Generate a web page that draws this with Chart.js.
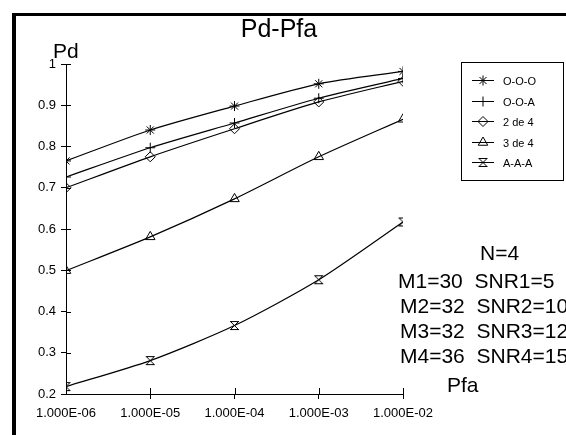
<!DOCTYPE html>
<html>
<head>
<meta charset="utf-8">
<script src="https://cdn.jsdelivr.net/npm/chart.js@4/dist/chart.umd.min.js"></script>
<style>
  html, body { margin: 0; padding: 0; background: #fff; }
  #wrap { position: relative; width: 566px; height: 435px; overflow: hidden; }
  #frame { position: absolute; left: 12px; top: 13px; width: 560px; height: 430px;
           border-left: 4px solid #000; border-top: 3px solid #000; }
  canvas { position: absolute; left: 0; top: 0; }
</style>
</head>
<body>
<div id="wrap">
  <div id="frame"></div>
  <canvas id="chart" width="566" height="435"></canvas>
</div>
<script>
// data
var pfa = [1e-6, 1e-5, 1e-4, 1e-3, 1e-2];
var xTickLabels = ['1.000E-06', '1.000E-05', '1.000E-04', '1.000E-03', '1.000E-02'];
var yTicks = [0.2, 0.3, 0.4, 0.5, 0.6, 0.7, 0.8, 0.9, 1];
var names = ['O-O-O', 'O-O-A', '2 de 4', '3 de 4', 'A-A-A'];
var ooo = [0.765, 0.84, 0.898, 0.952, 0.982];
var ooa = [0.726, 0.797, 0.857, 0.917, 0.965];
var dos = [0.70, 0.775, 0.843, 0.908, 0.958];
var tres = [0.499, 0.581, 0.673, 0.775, 0.866];
var aaa = [0.218, 0.281, 0.366, 0.477, 0.617];
var notes = ['N=4', 'M1=30  SNR1=5', 'M2=32  SNR2=10', 'M3=32  SNR3=12', 'M4=36  SNR4=15'];

// hourglass marker for A-A-A
var hg = document.createElement('canvas');
hg.width = 11; hg.height = 11;
var g = hg.getContext('2d');
g.strokeStyle = '#000';
g.lineWidth = 1;
g.beginPath();
g.moveTo(1, 1.5); g.lineTo(10, 1.5);
g.moveTo(1, 9.5); g.lineTo(10, 9.5);
g.moveTo(1.5, 1.5); g.lineTo(9.5, 9.5);
g.moveTo(9.5, 1.5); g.lineTo(1.5, 9.5);
g.stroke();

function pts(arr) {
    return arr.map(function (v, i) { return { x: pfa[i], y: v }; });
}

function ds(label, arr, style, r) {
    return {
        label: label,
        data: pts(arr),
        borderColor: '#000',
        backgroundColor: 'transparent',
        borderWidth: 1.2,
        pointStyle: style,
        pointRadius: r,
        pointBorderWidth: 1,
        pointBorderColor: '#000',
        pointBackgroundColor: 'transparent',
        tension: 0.25
    };
}

var font = '"Liberation Sans", Arial, sans-serif';

var extras = {
    id: 'extras',
    afterDraw: function (chart) {
        var ctx = chart.ctx;
        var xs = chart.scales.x, ys = chart.scales.y;
        ctx.save();
        ctx.fillStyle = '#000';
        ctx.strokeStyle = '#000';
        ctx.lineWidth = 1;

        // inner halves of the tick marks
        ctx.beginPath();
        yTicks.forEach(function (v) {
            var py = Math.round(ys.getPixelForValue(v)) + 0.5;
            ctx.moveTo(xs.left, py); ctx.lineTo(xs.left + 5, py);
        });
        pfa.slice(1).forEach(function (v) {
            var px = Math.round(xs.getPixelForValue(v)) + 0.5;
            ctx.moveTo(px, ys.bottom); ctx.lineTo(px, ys.bottom - 6);
        });
        ctx.stroke();

        // title and axis names
        ctx.textAlign = 'center';
        ctx.textBaseline = 'alphabetic';
        ctx.font = '25px ' + font;
        ctx.fillText('Pd-Pfa', 279, 37);
        ctx.textAlign = 'left';
        ctx.font = '21px ' + font;
        ctx.fillText('Pd', 53, 58);
        ctx.fillText('Pfa', 447, 392);

        // parameter notes
        ctx.fillText(notes[0], 480, 260);
        for (var i = 1; i < notes.length; i++) {
            ctx.fillText(notes[i], i == 1 ? 398 : 400, 288 + (i - 1) * 25);
        }

        // legend box
        ctx.strokeRect(461.5, 62.5, 102, 118);
        ctx.font = '11px ' + font;
        ctx.textBaseline = 'middle';
        chart.data.datasets.forEach(function (d, k) {
            var ly = Math.round(80 + k * 20.5) + 0.5;
            ctx.beginPath();
            ctx.moveTo(472, ly); ctx.lineTo(494, ly);
            ctx.stroke();
            ctx.fillStyle = 'rgba(0,0,0,0)';
            Chart.helpers.drawPoint(ctx, {
                pointStyle: d.pointStyle, radius: d.pointRadius, rotation: 0, borderWidth: 1
            }, 483, ly);
            ctx.fillStyle = '#000';
            ctx.fillText(d.label, 503, ly + 1);
        });
        ctx.restore();
    }
};

new Chart(document.getElementById('chart').getContext('2d'), {
    type: 'line',
    data: {
        datasets: [
            ds(names[0], ooo, 'star', 5),
            ds(names[1], ooa, 'cross', 5),
            ds(names[2], dos, 'rectRot', 5),
            ds(names[3], tres, 'triangle', 5.5),
            ds(names[4], aaa, hg, 5)
        ]
    },
    options: {
        responsive: false,
        animation: false,
        layout: {
            padding: { top: 64, right: 163, left: 0, bottom: 0 }
        },
        plugins: {
            legend: { display: false },
            tooltip: { enabled: false }
        },
        scales: {
            x: {
                type: 'logarithmic',
                min: pfa[0],
                max: pfa[pfa.length - 1],
                afterBuildTicks: function (scale) {
                    scale.ticks = pfa.map(function (v) { return { value: v }; });
                },
                afterFit: function (scale) { scale.height = 41; },
                ticks: {
                    autoSkip: false,
                    maxRotation: 0,
                    color: '#000',
                    font: { family: font, size: 13 },
                    padding: 7,
                    callback: function (v) { return xTickLabels[pfa.indexOf(v)]; }
                },
                grid: {
                    drawOnChartArea: false,
                    color: '#000',
                    tickLength: 5,
                    tickColor: function (c) { return c.index == 0 ? 'transparent' : '#000'; }
                },
                border: { color: '#000', width: 1 }
            },
            y: {
                min: 0.2,
                max: 1,
                afterBuildTicks: function (scale) {
                    scale.ticks = yTicks.map(function (v) { return { value: v }; });
                },
                afterFit: function (scale) { scale.width = 66; },
                ticks: {
                    color: '#000',
                    font: { family: font, size: 13 },
                    padding: 5,
                    callback: function (v) { return String(v); }
                },
                grid: {
                    drawOnChartArea: false,
                    color: '#000',
                    tickLength: 5
                },
                border: { color: '#000', width: 1 }
            }
        }
    },
    plugins: [extras]
});
</script>
</body>
</html>
